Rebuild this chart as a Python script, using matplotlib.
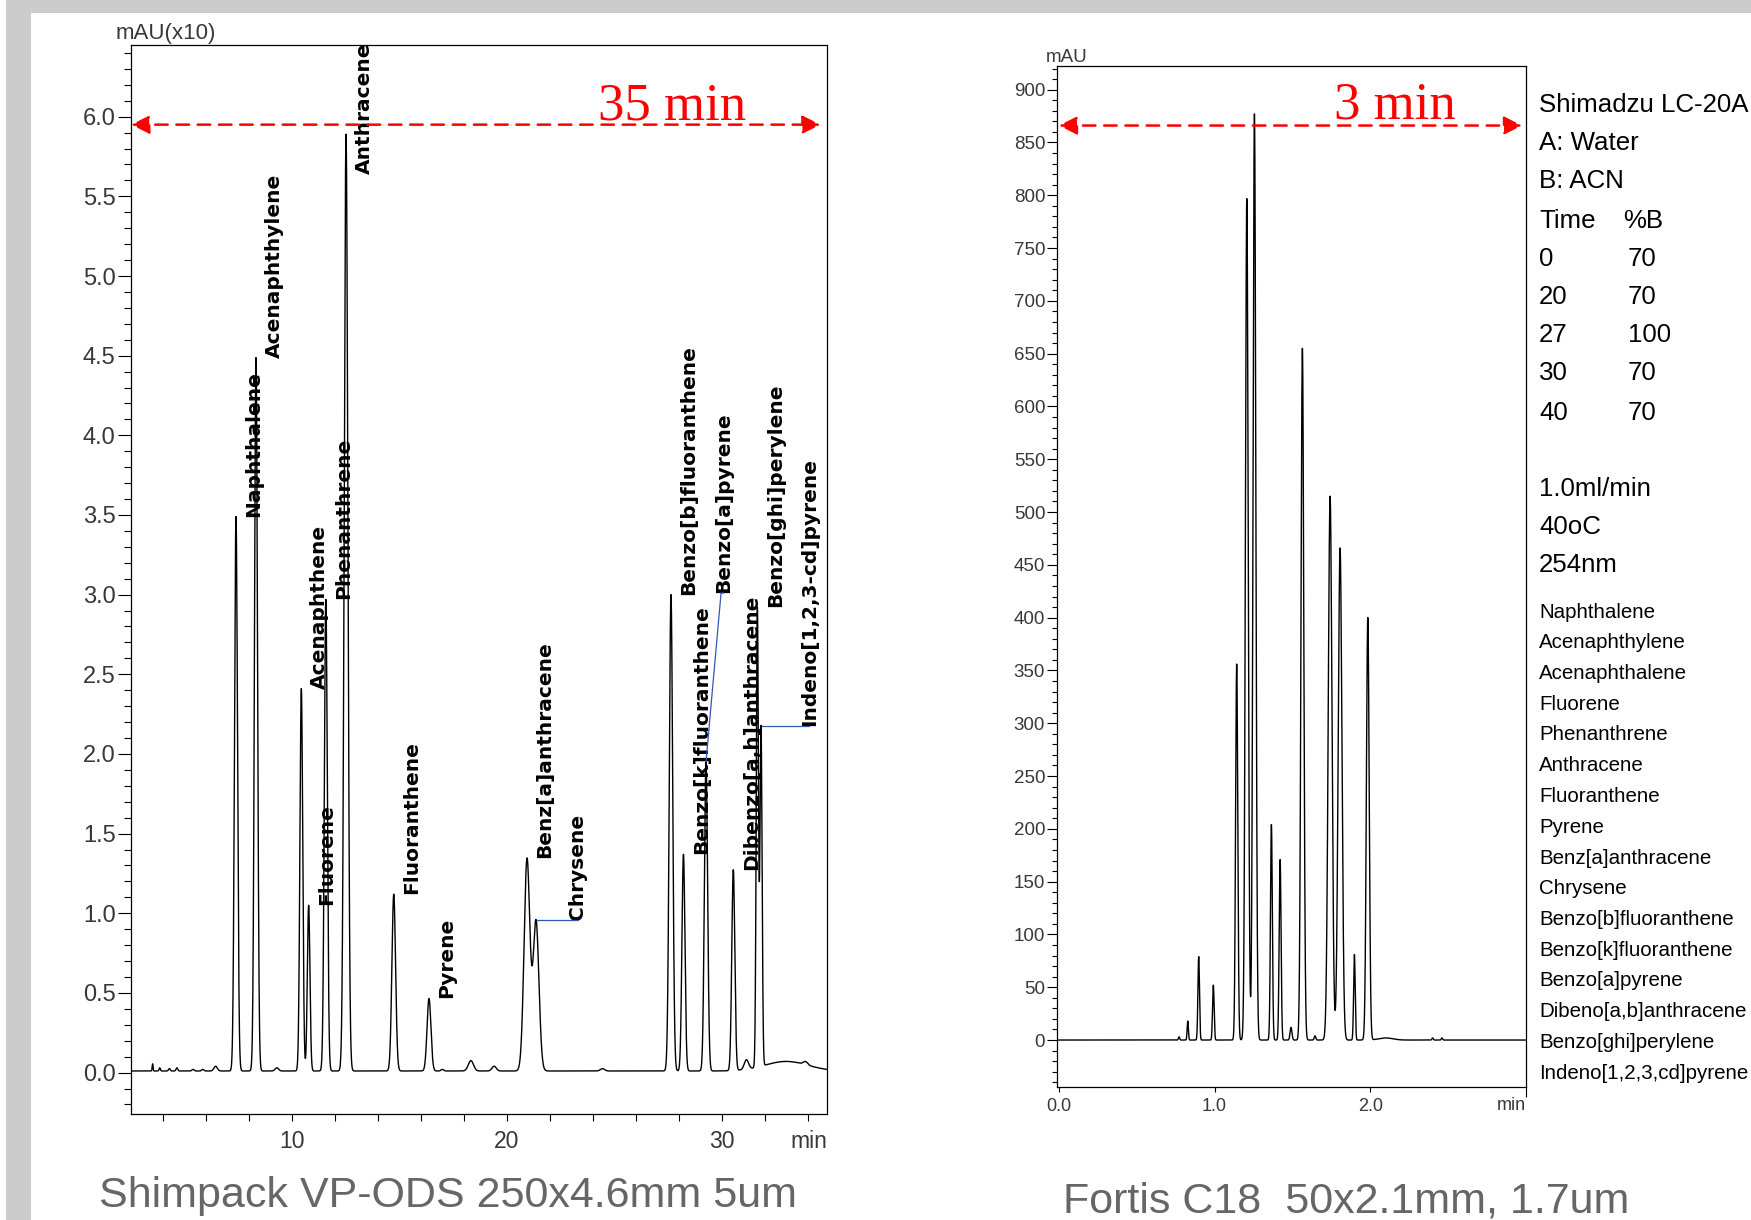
import numpy as np
import matplotlib
matplotlib.use("Agg")
import matplotlib.pyplot as plt
from matplotlib.ticker import MultipleLocator, FixedLocator, FixedFormatter, FormatStrFormatter
from matplotlib.patches import Rectangle

plt.rcParams['font.family'] = ['Liberation Sans', 'DejaVu Sans']

# ---------------- data: left chromatogram (Shimpack VP-ODS) ----------------
left_peak_names = ['Naphthalene', 'Acenaphthylene', 'Acenaphthene', 'Fluorene',
                   'Phenanthrene', 'Anthracene', 'Fluoranthene', 'Pyrene',
                   'Benz[a]anthracene', 'Chrysene', 'Benzo[b]fluoranthene',
                   'Benzo[k]fluoranthene', 'Benzo[a]pyrene', 'Dibenzo[a,h]anthracene',
                   'Benzo[ghi]perylene', 'Indeno[1,2,3-cd]pyrene']
left_peak_times = [7.40, 8.33, 10.44, 10.78, 11.58, 12.52, 14.74, 16.38,
                   20.94, 21.36, 27.64, 28.22, 29.27, 30.54, 31.66, 31.83]
left_peak_heights = [3.48, 4.48, 2.40, 1.04, 2.96, 5.88, 1.11, 0.455,
                     1.33, 0.94, 2.99, 1.36, 1.94, 1.26, 2.88, 2.13]
left_peak_sigmas = [0.07, 0.07, 0.065, 0.06, 0.07, 0.085, 0.085, 0.09,
                    0.135, 0.135, 0.08, 0.07, 0.075, 0.07, 0.05, 0.05]
left_minor_times = [3.52, 3.85, 4.30, 4.65, 5.40, 5.85, 6.45, 9.30, 17.0,
                    18.33, 19.41, 24.45, 31.15, 33.0, 33.9]
left_minor_heights = [0.045, 0.02, 0.015, 0.02, 0.01, 0.01, 0.03, 0.02, 0.01,
                      0.065, 0.03, 0.015, 0.06, 0.06, 0.02]
left_minor_sigmas = [0.02, 0.03, 0.04, 0.04, 0.05, 0.05, 0.08, 0.08, 0.06,
                     0.12, 0.10, 0.10, 0.10, 1.0, 0.10]
left_baseline = 0.01

# ---------------- data: right chromatogram (Fortis C18) ----------------
right_peak_times = [0.772, 0.828, 0.898, 0.992, 1.142, 1.207, 1.256, 1.365, 1.421,
                    1.491, 1.564, 1.645, 1.742, 1.806, 1.898, 1.984, 2.10, 2.40, 2.46]
right_peak_heights = [3, 18, 79, 52, 356, 797, 877, 204, 171,
                      12, 655, 4, 515, 466, 81, 400, 2, 2, 2]
right_peak_sigmas = [0.004, 0.004, 0.005, 0.005, 0.007, 0.009, 0.009, 0.006, 0.006,
                     0.006, 0.009, 0.005, 0.012, 0.012, 0.005, 0.009, 0.045, 0.004, 0.004]

conditions = ['Shimadzu LC-20A', 'A: Water', 'B: ACN']
gradient_time = ['Time', '0', '20', '27', '30', '40']
gradient_B = ['%B', '70', '70', '100', '70', '70']
settings = ['1.0ml/min', '40oC', '254nm']
compound_list = ['Naphthalene', 'Acenaphthylene', 'Acenaphthalene', 'Fluorene',
                 'Phenanthrene', 'Anthracene', 'Fluoranthene', 'Pyrene',
                 'Benz[a]anthracene', 'Chrysene', 'Benzo[b]fluoranthene',
                 'Benzo[k]fluoranthene', 'Benzo[a]pyrene', 'Dibeno[a,b]anthracene',
                 'Benzo[ghi]perylene', 'Indeno[1,2,3,cd]pyrene']


def trace(t, times, heights, sigmas):
    y = np.zeros_like(t)
    for c, h, s in zip(times, heights, sigmas):
        y += h * np.exp(-0.5 * ((t - c) / s) ** 2)
    return y


W, H = 1751, 1220
fig = plt.figure(figsize=(W / 100, H / 100), dpi=100)
fig.patch.set_facecolor('white')

# gray frame of the slide
fig.add_artist(Rectangle((6 / W, 1 - 13 / H), 1, 13 / H, transform=fig.transFigure,
                         facecolor='#cccccc', edgecolor='none', zorder=0))
fig.add_artist(Rectangle((6 / W, 0), 25 / W, 1, transform=fig.transFigure,
                         facecolor='#cccccc', edgecolor='none', zorder=0))

TICKC = '#383838'

# ---------------- left chart ----------------
ax1 = fig.add_axes([130.7 / W, 1 - 1114 / H, (827 - 130.7) / W, (1114 - 45) / H])
tl = np.arange(2.5, 34.9, 0.004)
yl = left_baseline + trace(tl, left_peak_times, left_peak_heights, left_peak_sigmas) \
    + trace(tl, left_minor_times, left_minor_heights, left_minor_sigmas)
ax1.plot(tl, yl, color='black', lw=1.0, zorder=3)
ax1.set_xlim(2.5, 34.9)
ax1.set_ylim(-0.26, 6.45)
ax1.yaxis.set_major_locator(MultipleLocator(0.5))
ax1.yaxis.set_minor_locator(MultipleLocator(0.1))
ax1.yaxis.set_major_formatter(FormatStrFormatter('%.1f'))
ax1.xaxis.set_major_locator(FixedLocator([10, 20, 30]))
ax1.xaxis.set_minor_locator(FixedLocator([4, 6, 8, 12, 14, 16, 18, 22, 24, 26, 28, 32, 34]))
ax1.tick_params(axis='y', which='major', length=9.7, width=0.8, pad=1.2,
                labelsize=17, labelcolor=TICKC, direction='out')
ax1.tick_params(axis='y', which='minor', length=5, width=0.8, direction='out')
ax1.tick_params(axis='x', which='both', length=4.8, width=0.8, pad=6.5,
                labelsize=16.5, labelcolor=TICKC, direction='out')
for sp in ax1.spines.values():
    sp.set_linewidth(0.9)
ax1.annotate('min', xy=(1, 0), xycoords='axes fraction', xytext=(0, -11.3),
             textcoords='offset points', ha='right', va='top', fontsize=16.5, color=TICKC)
fig.text(116 / W, 1 - 33 / H, 'mAU(x10)', ha='left', va='center', fontsize=16, color=TICKC)

# peak labels
lab_kw = dict(rotation=90, ha='center', va='bottom', fontsize=14.5,
              fontweight='bold', family='DejaVu Sans', color='black', zorder=2)
leader_end = {'Chrysene': (23.27, None), 'Indeno[1,2,3-cd]pyrene': (34.07, None),
              'Benzo[a]pyrene': (30.09, 3.01)}
for name, t in zip(left_peak_names, left_peak_times):
    apex = float(np.interp(t, tl, yl))
    if name == 'Anthracene':
        ax1.annotate(name, xy=(t, 1.0), xycoords=('data', 'axes fraction'),
                     xytext=(13, 2), textcoords='offset points',
                     **{**lab_kw, 'va': 'top'})
    elif name in leader_end:
        lx, ly = leader_end[name]
        if ly is None:
            ly = apex
            ax1.plot([t, lx], [apex, ly], color='#3355bb', lw=0.9, zorder=2.5)
        else:
            ax1.plot([t, lx - 0.12, lx], [apex, ly, ly], color='#3355bb', lw=0.9, zorder=2.5)
        ax1.text(lx, ly, name, **lab_kw)
    else:
        ax1.annotate(name, xy=(t, apex), xytext=(13, 0), textcoords='offset points', **lab_kw)

# red arrow + text
ax1.annotate('', xy=(34.6, 5.95), xytext=(2.52, 5.95),
             arrowprops=dict(arrowstyle='<|-|>,head_length=1.1,head_width=0.55',
                             mutation_scale=10, color='red', lw=1.8,
                             linestyle=(0, (5, 3.5)), shrinkA=0, shrinkB=0), zorder=4)
ax1.text(31.13, 5.985, '35 min', ha='right', va='baseline', color='red',
         fontsize=38, family='Liberation Serif', zorder=4)

# ---------------- right chart ----------------
ax2 = fig.add_axes([1057.3 / W, 1 - 1086.5 / H, (1526 - 1057.3) / W, (1086.5 - 66.4) / H])
tr = np.arange(-0.01, 3.0, 0.0004)
yr = trace(tr, right_peak_times, right_peak_heights, right_peak_sigmas)
ax2.plot(tr, yr, color='black', lw=1.0, zorder=3)
ax2.set_xlim(-0.01, 3.0)
ax2.set_ylim(-44, 922)
ax2.yaxis.set_major_locator(MultipleLocator(50))
ax2.yaxis.set_minor_locator(MultipleLocator(10))
ax2.xaxis.set_major_locator(FixedLocator([0, 1, 2]))
ax2.xaxis.set_major_formatter(FixedFormatter(['0.0', '1.0', '2.0']))
ax2.xaxis.set_minor_locator(FixedLocator([3.0]))
ax2.tick_params(axis='y', which='major', length=7.2, width=0.8, pad=1.5,
                labelsize=13.5, labelcolor=TICKC, direction='out')
ax2.tick_params(axis='y', which='minor', length=3.6, width=0.8, direction='out')
ax2.tick_params(axis='x', which='major', length=3.6, width=0.8, pad=5,
                labelsize=13, labelcolor=TICKC, direction='out')
ax2.tick_params(axis='x', which='minor', length=7.2, width=0.8, direction='out')
for sp in ax2.spines.values():
    sp.set_linewidth(0.9)
ax2.annotate('min', xy=(1, 0), xycoords='axes fraction', xytext=(0, -7.8),
             textcoords='offset points', ha='right', va='top', fontsize=13, color=TICKC)
fig.text(1046 / W, 1 - 57 / H, 'mAU', ha='left', va='center', fontsize=13.5, color=TICKC)

ax2.annotate('', xy=(2.975, 866), xytext=(0.0, 866),
             arrowprops=dict(arrowstyle='<|-|>,head_length=1.1,head_width=0.55',
                             mutation_scale=10, color='red', lw=1.8,
                             linestyle=(0, (5, 3.5)), shrinkA=0, shrinkB=0), zorder=4)
ax2.text(2.551, 873, '3 min', ha='right', va='baseline', color='red',
         fontsize=38, family='Liberation Serif', zorder=4)

# ---------------- right-hand text block ----------------
x0 = 1539 / W
ys_top = [105.5, 143.5, 181.5]
for s, yy in zip(conditions, ys_top):
    fig.text(x0, 1 - yy / H, s, ha='left', va='center', fontsize=18.6, color='black')
ys_grad = [220.5, 258.5, 296.5, 335.5, 373.5, 412.5]
for i, (a, b) in enumerate(zip(gradient_time, gradient_B)):
    fig.text(x0, 1 - ys_grad[i] / H, a, ha='left', va='center', fontsize=18.6, color='black')
    fig.text((1623 if i == 0 else 1628) / W, 1 - ys_grad[i] / H, b, ha='left', va='center',
             fontsize=18.6, color='black')
for s, yy in zip(settings, [489.5, 527.5, 565.5]):
    fig.text(x0, 1 - yy / H, s, ha='left', va='center', fontsize=18.6, color='black')
for i, s in enumerate(compound_list):
    yy = 612 + i * 30.75
    fig.text(x0, 1 - yy / H, s, ha='left', va='center', fontsize=14.8, color='black')

# ---------------- captions ----------------
fig.text(447.8 / W, 1 - 1196 / H, 'Shimpack VP-ODS 250x4.6mm 5um', ha='center', va='center',
         fontsize=31, color='#666666')
fig.text(1346.5 / W, 1 - 1201 / H, 'Fortis C18  50x2.1mm, 1.7um', ha='center', va='center',
         fontsize=31, color='#666666')

fig.savefig('out.png', dpi=100, facecolor='white')
